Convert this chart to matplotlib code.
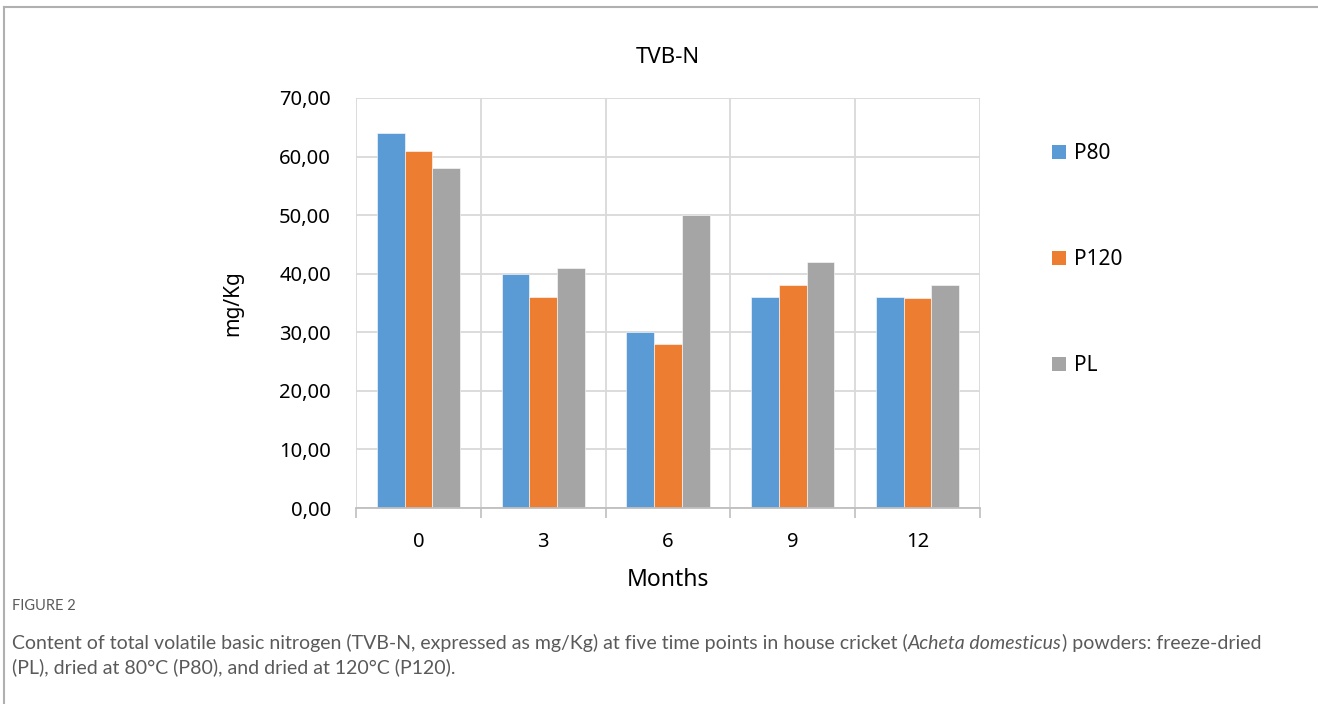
import matplotlib.pyplot as plt
import numpy as np
from matplotlib.lines import Line2D
from matplotlib.patches import Patch

# data
months = ["0", "3", "6", "9", "12"]
p80 = [64.0, 40.0, 30.0, 36.0, 36.0]
p120 = [61.0, 36.0, 28.0, 38.0, 35.8]
pl = [58.0, 41.0, 50.0, 42.0, 38.0]
series_names = ["P80", "P120", "PL"]
colors = ["#5b9bd5", "#ed7d31", "#a5a5a5"]

chart_font = "Noto Sans"
cap_font = "Lato"

fig = plt.figure(figsize=(13.18, 7.04), dpi=100)
ax = fig.add_axes([0.2701, 0.2784, 0.4734, 0.5824])

x = np.arange(len(months))
w = 0.222
for i, (vals, c) in enumerate(zip([p80, p120, pl], colors)):
    ax.bar(x + (i - 1) * w, vals, width=w, color=c, edgecolor="white", linewidth=0.4, zorder=3)

ax.set_xlim(-0.5, len(months) - 0.5)
ax.set_ylim(0, 70)
ax.set_yticks(np.arange(0, 71, 10))
ax.set_yticklabels([f"{v:.2f}".replace(".", ",") for v in np.arange(0, 71, 10)],
                   fontsize=14.5, family=chart_font)
ax.set_xticks(x)
ax.set_xticklabels(months, fontsize=14.5, family=chart_font)
ax.set_xticks(np.arange(-0.5, len(months)), minor=True)
ax.tick_params(axis="x", which="major", length=0, pad=17)
ax.tick_params(axis="x", which="minor", length=7, color="#bfbfbf", width=1.2)
ax.tick_params(axis="y", length=0, pad=18)
ax.grid(axis="y", color="#d9d9d9", linewidth=1.3, zorder=0)
ax.grid(axis="x", which="minor", color="#d9d9d9", linewidth=1.3, zorder=0)
for s in ["top", "right", "left"]:
    ax.spines[s].set_visible(False)
ax.spines["bottom"].set_color("#bfbfbf")
ax.spines["bottom"].set_linewidth(1.3)
ax.spines["bottom"].set_zorder(4)

ax.set_xlabel("Months", fontsize=16.5, family=chart_font, labelpad=12)
ax.set_ylabel("mg/Kg", fontsize=15, family=chart_font, labelpad=26)
fig.text(0.507, 0.919, "TVB-N", ha="center", va="center", fontsize=16, family=chart_font)

handles = [Patch(facecolor=c, edgecolor="none") for c in colors]
fig.legend(handles, series_names, loc="upper left", bbox_to_anchor=(0.784, 0.823),
           frameon=False, handlelength=0.65, handleheight=0.65, handletextpad=0.4,
           labelspacing=4.08, prop={"family": chart_font, "size": 15})

# frame around the figure panel
fig.add_artist(Line2D([0.003, 1.0], [0.9905, 0.9905], color="#b0b0b0", lw=1.5, transform=fig.transFigure))
fig.add_artist(Line2D([0.003, 0.003], [0.0, 0.9905], color="#b0b0b0", lw=1.5, transform=fig.transFigure))

# caption
cap_col = "#5a5a5a"
fig.text(12 / 1318, 1 - 606 / 704, "FIGURE 2", fontsize=10.5, color=cap_col, family=cap_font,
         va="center")
cap_size = 14
renderer = fig.canvas.get_renderer()
y1 = 1 - 649 / 704
parts = [("Content of total volatile basic nitrogen (TVB-N, expressed as mg/Kg) at five time points in house cricket (", "normal"),
         ("Acheta domesticus", "italic"),
         (") powders: freeze-dried", "normal")]
xpos = 12 / 1318
for txt, style in parts:
    t = fig.text(xpos, y1, txt, fontsize=cap_size, color=cap_col, family=cap_font,
                 style=style, va="baseline")
    bb = t.get_window_extent(renderer)
    xpos = bb.x1 / fig.bbox.width
fig.text(12 / 1318, 1 - 673 / 704, "(PL), dried at 80°C (P80), and dried at 120°C (P120).",
         fontsize=cap_size, color=cap_col, family=cap_font, va="baseline")

fig.savefig("out.png", dpi=100)
